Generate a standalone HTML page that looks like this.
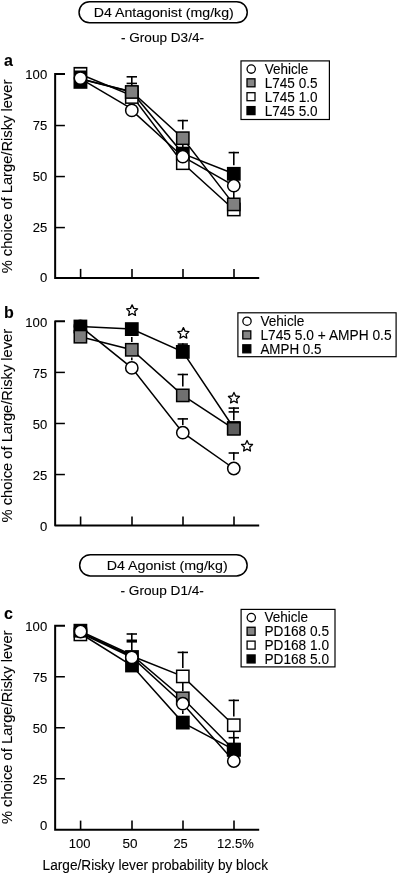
<!DOCTYPE html>
<html lang="en">
<head>
<meta charset="utf-8">
<title>Figure</title>
<style>
html,body{margin:0;padding:0;background:#fff;}
body{width:398px;height:874px;overflow:hidden;}
svg{display:block;}
svg text{font-family:"Liberation Sans",Arial,Helvetica,sans-serif;fill:#000;stroke:#000;stroke-width:0.1px;}
</style>
</head>
<body>
<svg width="398" height="874" viewBox="0 0 398 874">
<rect x="0" y="0" width="398" height="874" fill="#fff"/>
<rect x="79.05" y="1.65" width="168.2" height="21.1" rx="10.55" ry="10.55" fill="#fff" stroke="#000" stroke-width="1.5"/>
<text x="93.75" y="17.1" font-size="13.3" text-anchor="start" textLength="140.0" lengthAdjust="spacingAndGlyphs" >D4 Antagonist (mg/kg)</text>
<text x="121.0" y="42.4" font-size="12.8" text-anchor="start" textLength="83" lengthAdjust="spacingAndGlyphs" >- Group D3/4-</text>
<path d="M65,73.9 H55.15 V278.0 H259.2" fill="none" stroke="#000" stroke-width="2" stroke-linejoin="miter"/>
<text x="25.3" y="78.8" font-size="13" text-anchor="start" textLength="21.9" lengthAdjust="spacingAndGlyphs" >100</text>
<line x1="55.15" y1="125.53" x2="64.9" y2="125.53" stroke="#000" stroke-width="1.5"/>
<text x="32.7" y="129.83" font-size="13" text-anchor="start" textLength="14.5" lengthAdjust="spacingAndGlyphs" >75</text>
<line x1="55.15" y1="176.55" x2="64.9" y2="176.55" stroke="#000" stroke-width="1.5"/>
<text x="32.7" y="180.85" font-size="13" text-anchor="start" textLength="14.5" lengthAdjust="spacingAndGlyphs" >50</text>
<line x1="55.15" y1="227.57" x2="64.9" y2="227.57" stroke="#000" stroke-width="1.5"/>
<text x="32.7" y="231.88" font-size="13" text-anchor="start" textLength="14.5" lengthAdjust="spacingAndGlyphs" >25</text>
<text x="39.9" y="282.3" font-size="13" text-anchor="start" textLength="7.3" lengthAdjust="spacingAndGlyphs" >0</text>
<line x1="80.60000000000001" y1="278.0" x2="80.60000000000001" y2="268.9" stroke="#000" stroke-width="1.6"/>
<line x1="132.0" y1="278.0" x2="132.0" y2="268.9" stroke="#000" stroke-width="1.6"/>
<line x1="183.0" y1="278.0" x2="183.0" y2="268.9" stroke="#000" stroke-width="1.6"/>
<line x1="234.0" y1="278.0" x2="234.0" y2="268.9" stroke="#000" stroke-width="1.6"/>
<text x="4" y="66.2" font-size="16" text-anchor="start" font-weight="bold" >a</text>
<text transform="translate(11.9,273.3) rotate(-90)" font-size="14" textLength="193.6" lengthAdjust="spacingAndGlyphs">% choice of Large/Risky lever</text>
<line x1="80.4" y1="78.6" x2="131.8" y2="108.8" stroke="#000" stroke-width="1.5"/>
<polyline fill="none" stroke="#000" stroke-width="1.5" points="131.8,110.4 182.8,156.7 233.8,185.7"/>
<polyline fill="none" stroke="#000" stroke-width="1.5" points="80.4,79.0 131.8,92.0 182.8,153.6 233.8,173.8"/>
<polyline fill="none" stroke="#000" stroke-width="1.5" points="80.4,74.2 131.8,95.5 182.8,163.2 233.8,209.5"/>
<polyline fill="none" stroke="#000" stroke-width="1.5" points="80.4,78.8 131.8,91.8 182.8,138.2 233.8,204.4"/>
<line x1="131.8" y1="92.0" x2="131.8" y2="76.0" stroke="#000" stroke-width="1.6"/>
<line x1="126.60000000000001" y1="76.8" x2="137.0" y2="76.8" stroke="#000" stroke-width="1.6"/>
<line x1="126.60000000000001" y1="83.4" x2="137.0" y2="83.4" stroke="#000" stroke-width="1.6"/>
<line x1="182.8" y1="129.5" x2="182.8" y2="119.8" stroke="#000" stroke-width="1.6"/>
<line x1="177.60000000000002" y1="120.6" x2="188.0" y2="120.6" stroke="#000" stroke-width="1.6"/>
<line x1="233.8" y1="165.2" x2="233.8" y2="151.8" stroke="#000" stroke-width="1.6"/>
<line x1="228.60000000000002" y1="152.6" x2="239.0" y2="152.6" stroke="#000" stroke-width="1.6"/>
<line x1="182.8" y1="153.6" x2="182.8" y2="139.2" stroke="#000" stroke-width="1.6"/>
<line x1="177.60000000000002" y1="140" x2="188.0" y2="140" stroke="#000" stroke-width="1.6"/>
<line x1="233.8" y1="185.7" x2="233.8" y2="204.4" stroke="#000" stroke-width="1.6"/>
<rect x="73.5" y="66.9" width="13.9" height="21.9" fill="#000"/>
<rect x="74.9" y="68.6" width="11.1" height="1.9" fill="#fff"/>
<circle cx="80.4" cy="78.1" r="6.15" fill="#fff" stroke="#000" stroke-width="1.5"/>
<rect x="125.65" y="86.35" width="12.3" height="12.3" fill="#000" stroke="#000" stroke-width="1.5"/>
<rect x="125.65" y="90.85" width="12.3" height="12.3" fill="#fff" stroke="#000" stroke-width="1.5"/>
<rect x="125.65" y="85.85" width="12.3" height="12.3" fill="#808080" stroke="#000" stroke-width="1.5"/>
<circle cx="131.8" cy="110.4" r="6.15" fill="#fff" stroke="#000" stroke-width="1.5"/>
<rect x="176.65" y="147.45" width="12.3" height="12.3" fill="#000" stroke="#000" stroke-width="1.5"/>
<rect x="176.65" y="157.05" width="12.3" height="12.3" fill="#fff" stroke="#000" stroke-width="1.5"/>
<rect x="176.65" y="132.05" width="12.3" height="12.3" fill="#808080" stroke="#000" stroke-width="1.5"/>
<circle cx="182.8" cy="156.7" r="6.15" fill="#fff" stroke="#000" stroke-width="1.5"/>
<rect x="227.65" y="167.65" width="12.3" height="12.3" fill="#000" stroke="#000" stroke-width="1.5"/>
<rect x="227.65" y="203.35" width="12.3" height="12.3" fill="#fff" stroke="#000" stroke-width="1.5"/>
<rect x="227.65" y="198.25" width="12.3" height="12.3" fill="#808080" stroke="#000" stroke-width="1.5"/>
<circle cx="233.8" cy="185.7" r="6.15" fill="#fff" stroke="#000" stroke-width="1.5"/>
<rect x="241.0" y="60.9" width="88.4" height="58.6" fill="#fff" stroke="#000" stroke-width="1.2"/>
<circle cx="251.2" cy="69.1" r="4.15" fill="#fff" stroke="#000" stroke-width="1.3"/>
<text x="264.7" y="73.8" font-size="14" text-anchor="start" textLength="43.6" lengthAdjust="spacingAndGlyphs" >Vehicle</text>
<rect x="247.00" y="78.80" width="8.0" height="8.0" fill="#868686" stroke="#000" stroke-width="1.3"/>
<text x="264.7" y="87.7" font-size="14" text-anchor="start" textLength="52.8" lengthAdjust="spacingAndGlyphs" >L745 0.5</text>
<rect x="247.00" y="92.70" width="8.0" height="8.0" fill="#fff" stroke="#000" stroke-width="1.3"/>
<text x="264.7" y="101.6" font-size="14" text-anchor="start" textLength="52.8" lengthAdjust="spacingAndGlyphs" >L745 1.0</text>
<rect x="247.00" y="106.60" width="8.0" height="8.0" fill="#000" stroke="#000" stroke-width="1.3"/>
<text x="264.7" y="115.5" font-size="14" text-anchor="start" textLength="52.8" lengthAdjust="spacingAndGlyphs" >L745 5.0</text>
<path d="M65,321.35 H55.15 V525.6 H259.2" fill="none" stroke="#000" stroke-width="2" stroke-linejoin="round"/>
<text x="25.3" y="326.65" font-size="13" text-anchor="start" textLength="21.9" lengthAdjust="spacingAndGlyphs" >100</text>
<line x1="55.15" y1="372.41" x2="64.9" y2="372.41" stroke="#000" stroke-width="1.5"/>
<text x="32.7" y="377.71" font-size="13" text-anchor="start" textLength="14.5" lengthAdjust="spacingAndGlyphs" >75</text>
<line x1="55.15" y1="423.48" x2="64.9" y2="423.48" stroke="#000" stroke-width="1.5"/>
<text x="32.7" y="428.77" font-size="13" text-anchor="start" textLength="14.5" lengthAdjust="spacingAndGlyphs" >50</text>
<line x1="55.15" y1="474.54" x2="64.9" y2="474.54" stroke="#000" stroke-width="1.5"/>
<text x="32.7" y="479.84" font-size="13" text-anchor="start" textLength="14.5" lengthAdjust="spacingAndGlyphs" >25</text>
<text x="39.9" y="530.9" font-size="13" text-anchor="start" textLength="7.3" lengthAdjust="spacingAndGlyphs" >0</text>
<line x1="80.60000000000001" y1="525.6" x2="80.60000000000001" y2="516.5" stroke="#000" stroke-width="1.6"/>
<line x1="132.0" y1="525.6" x2="132.0" y2="516.5" stroke="#000" stroke-width="1.6"/>
<line x1="183.0" y1="525.6" x2="183.0" y2="516.5" stroke="#000" stroke-width="1.6"/>
<line x1="234.0" y1="525.6" x2="234.0" y2="516.5" stroke="#000" stroke-width="1.6"/>
<text x="4" y="317.6" font-size="16" text-anchor="start" font-weight="bold" >b</text>
<text transform="translate(11.9,522.4) rotate(-90)" font-size="14" textLength="193.6" lengthAdjust="spacingAndGlyphs">% choice of Large/Risky lever</text>
<polyline fill="none" stroke="#000" stroke-width="1.5" points="80.4,326.4 131.8,367.9 182.8,432.7 233.8,468.5"/>
<polyline fill="none" stroke="#000" stroke-width="1.5" points="80.4,326.5 131.8,329.1 182.8,351.9 233.8,428.0"/>
<polyline fill="none" stroke="#000" stroke-width="1.5" points="80.4,336.7 131.8,349.8 182.8,395.4 233.8,428.85"/>
<line x1="131.8" y1="337.0" x2="131.8" y2="342.0" stroke="#000" stroke-width="1.6"/>
<line x1="131.8" y1="357.6" x2="131.8" y2="360.3" stroke="#000" stroke-width="1.6"/>
<line x1="182.8" y1="351.9" x2="182.8" y2="343.3" stroke="#000" stroke-width="1.6"/>
<line x1="177.70000000000002" y1="344.1" x2="187.9" y2="344.1" stroke="#000" stroke-width="1.6"/>
<line x1="182.8" y1="386.6" x2="182.8" y2="373.7" stroke="#000" stroke-width="1.6"/>
<line x1="177.60000000000002" y1="374.5" x2="188.0" y2="374.5" stroke="#000" stroke-width="1.6"/>
<line x1="182.8" y1="425.0" x2="182.8" y2="418.1" stroke="#000" stroke-width="1.6"/>
<line x1="177.60000000000002" y1="418.9" x2="188.0" y2="418.9" stroke="#000" stroke-width="1.6"/>
<line x1="233.8" y1="420.2" x2="233.8" y2="407.3" stroke="#000" stroke-width="1.6"/>
<line x1="228.60000000000002" y1="408.1" x2="239.0" y2="408.1" stroke="#000" stroke-width="1.6"/>
<line x1="228.60000000000002" y1="411.9" x2="239.0" y2="411.9" stroke="#000" stroke-width="1.6"/>
<line x1="233.8" y1="460.2" x2="233.8" y2="452.2" stroke="#000" stroke-width="1.6"/>
<line x1="228.60000000000002" y1="453" x2="239.0" y2="453" stroke="#000" stroke-width="1.6"/>
<circle cx="80.4" cy="326.4" r="6.15" fill="#fff" stroke="#000" stroke-width="1.5"/>
<rect x="74.25" y="320.35" width="12.3" height="12.3" fill="#000" stroke="#000" stroke-width="1.5"/>
<rect x="125.65" y="322.95" width="12.3" height="12.3" fill="#000" stroke="#000" stroke-width="1.5"/>
<rect x="176.65" y="345.75" width="12.3" height="12.3" fill="#000" stroke="#000" stroke-width="1.5"/>
<rect x="227.65" y="421.85" width="12.3" height="12.3" fill="#000" stroke="#000" stroke-width="1.5"/>
<rect x="74.25" y="330.55" width="12.3" height="12.3" fill="#7e7e7e" stroke="#000" stroke-width="1.5"/>
<rect x="125.65" y="343.65" width="12.3" height="12.3" fill="#7c7c7c" stroke="#000" stroke-width="1.5"/>
<rect x="176.65" y="389.25" width="12.3" height="12.3" fill="#707070" stroke="#000" stroke-width="1.5"/>
<rect x="227.65" y="422.70" width="12.3" height="12.3" fill="#5e5e5e" stroke="#000" stroke-width="1.5"/>
<circle cx="131.8" cy="367.9" r="6.15" fill="#fff" stroke="#000" stroke-width="1.5"/>
<circle cx="182.8" cy="432.7" r="6.15" fill="#fff" stroke="#000" stroke-width="1.5"/>
<circle cx="233.8" cy="468.5" r="6.15" fill="#fff" stroke="#000" stroke-width="1.5"/>
<polygon fill="#fff" stroke="#000" stroke-width="1.3" stroke-linejoin="round" points="132.10,304.85 133.75,308.38 137.62,308.86 134.76,311.52 135.51,315.34 132.10,313.45 128.69,315.34 129.44,311.52 126.58,308.86 130.45,308.38"/>
<polygon fill="#fff" stroke="#000" stroke-width="1.3" stroke-linejoin="round" points="183.40,327.60 185.05,331.13 188.92,331.61 186.06,334.27 186.81,338.09 183.40,336.20 179.99,338.09 180.74,334.27 177.88,331.61 181.75,331.13"/>
<polygon fill="#fff" stroke="#000" stroke-width="1.3" stroke-linejoin="round" points="233.95,392.45 235.60,395.98 239.47,396.46 236.61,399.12 237.36,402.94 233.95,401.05 230.54,402.94 231.29,399.12 228.43,396.46 232.30,395.98"/>
<polygon fill="#fff" stroke="#000" stroke-width="1.3" stroke-linejoin="round" points="247.05,440.50 248.70,444.03 252.57,444.51 249.71,447.17 250.46,450.99 247.05,449.10 243.64,450.99 244.39,447.17 241.53,444.51 245.40,444.03"/>
<rect x="237.9" y="312.8" width="158.2" height="43.9" fill="#fff" stroke="#000" stroke-width="1.2"/>
<circle cx="247.0" cy="321.2" r="4.15" fill="#fff" stroke="#000" stroke-width="1.3"/>
<text x="260.4" y="325.9" font-size="14" text-anchor="start" textLength="43.9" lengthAdjust="spacingAndGlyphs" >Vehicle</text>
<rect x="242.80" y="330.90" width="8.0" height="8.0" fill="#868686" stroke="#000" stroke-width="1.3"/>
<text x="260.4" y="339.8" font-size="14" text-anchor="start" textLength="131.2" lengthAdjust="spacingAndGlyphs" >L745 5.0 + AMPH 0.5</text>
<rect x="242.80" y="344.80" width="8.0" height="8.0" fill="#000" stroke="#000" stroke-width="1.3"/>
<text x="260.4" y="353.7" font-size="14" text-anchor="start" textLength="61.0" lengthAdjust="spacingAndGlyphs" >AMPH 0.5</text>
<rect x="79.65" y="554.65" width="167.5" height="21.3" rx="10.65" ry="10.65" fill="#fff" stroke="#000" stroke-width="1.5"/>
<text x="106.65" y="570.2" font-size="13.3" text-anchor="start" textLength="121.0" lengthAdjust="spacingAndGlyphs" >D4 Agonist (mg/kg)</text>
<text x="120.5" y="595.0" font-size="12.8" text-anchor="start" textLength="83.4" lengthAdjust="spacingAndGlyphs" >- Group D1/4-</text>
<path d="M65,625.8 H55.15 V829.7 H259.2" fill="none" stroke="#000" stroke-width="2" stroke-linejoin="miter"/>
<text x="25.3" y="630.7" font-size="13" text-anchor="start" textLength="21.9" lengthAdjust="spacingAndGlyphs" >100</text>
<line x1="55.15" y1="676.77" x2="64.9" y2="676.77" stroke="#000" stroke-width="1.5"/>
<text x="32.7" y="681.67" font-size="13" text-anchor="start" textLength="14.5" lengthAdjust="spacingAndGlyphs" >75</text>
<line x1="55.15" y1="727.75" x2="64.9" y2="727.75" stroke="#000" stroke-width="1.5"/>
<text x="32.7" y="732.65" font-size="13" text-anchor="start" textLength="14.5" lengthAdjust="spacingAndGlyphs" >50</text>
<line x1="55.15" y1="778.73" x2="64.9" y2="778.73" stroke="#000" stroke-width="1.5"/>
<text x="32.7" y="783.62" font-size="13" text-anchor="start" textLength="14.5" lengthAdjust="spacingAndGlyphs" >25</text>
<text x="39.9" y="830.0" font-size="13" text-anchor="start" textLength="7.3" lengthAdjust="spacingAndGlyphs" >0</text>
<line x1="80.60000000000001" y1="829.7" x2="80.60000000000001" y2="820.6" stroke="#000" stroke-width="1.6"/>
<line x1="132.0" y1="829.7" x2="132.0" y2="820.6" stroke="#000" stroke-width="1.6"/>
<line x1="183.0" y1="829.7" x2="183.0" y2="820.6" stroke="#000" stroke-width="1.6"/>
<line x1="234.0" y1="829.7" x2="234.0" y2="820.6" stroke="#000" stroke-width="1.6"/>
<text x="4" y="619.0" font-size="16" text-anchor="start" font-weight="bold" >c</text>
<text transform="translate(11.9,824.1) rotate(-90)" font-size="14" textLength="193.6" lengthAdjust="spacingAndGlyphs">% choice of Large/Risky lever</text>
<polyline fill="none" stroke="#000" stroke-width="1.5" points="80.4,633.5 131.8,665.5 182.8,722.6 233.8,749.7"/>
<polyline fill="none" stroke="#000" stroke-width="1.5" points="80.4,631.3 131.8,654.9 182.8,698.3 233.8,749.7"/>
<polyline fill="none" stroke="#000" stroke-width="1.5" points="80.4,632.4 131.8,656.0 182.8,676.4 233.8,725.2"/>
<polyline fill="none" stroke="#000" stroke-width="1.5" points="80.4,633.0 131.8,657.2 182.8,703.7 233.8,761.0"/>
<line x1="131.8" y1="650" x2="131.8" y2="633.2" stroke="#000" stroke-width="1.6"/>
<line x1="126.60000000000001" y1="634.0" x2="137.0" y2="634.0" stroke="#000" stroke-width="1.6"/>
<line x1="126.60000000000001" y1="640.3" x2="137.0" y2="640.3" stroke="#000" stroke-width="1.6"/>
<line x1="126.60000000000001" y1="641.8" x2="137.0" y2="641.8" stroke="#000" stroke-width="1.6"/>
<line x1="182.8" y1="668.0" x2="182.8" y2="651.6" stroke="#000" stroke-width="1.6"/>
<line x1="177.60000000000002" y1="652.4" x2="188.0" y2="652.4" stroke="#000" stroke-width="1.6"/>
<line x1="182.8" y1="683" x2="182.8" y2="691" stroke="#000" stroke-width="1.6"/>
<line x1="182.8" y1="710.4" x2="182.8" y2="714.0" stroke="#000" stroke-width="1.6"/>
<line x1="233.8" y1="716.6" x2="233.8" y2="699.6" stroke="#000" stroke-width="1.6"/>
<line x1="228.60000000000002" y1="700.4" x2="239.0" y2="700.4" stroke="#000" stroke-width="1.6"/>
<line x1="233.8" y1="749.7" x2="233.8" y2="736.9" stroke="#000" stroke-width="1.6"/>
<line x1="228.60000000000002" y1="737.7" x2="239.0" y2="737.7" stroke="#000" stroke-width="1.6"/>
<line x1="233.8" y1="730" x2="233.8" y2="744" stroke="#000" stroke-width="1.6"/>
<rect x="74.25" y="628.25" width="12.3" height="12.3" fill="#fff" stroke="#000" stroke-width="1.5"/>
<rect x="74.25" y="624.55" width="12.3" height="12.3" fill="#000" stroke="#000" stroke-width="1.5"/>
<circle cx="80.60000000000001" cy="631.5" r="6.15" fill="#fff" stroke="#000" stroke-width="1.5"/>
<rect x="125.1" y="650.1" width="13.8" height="22.3" fill="#000"/>
<circle cx="131.8" cy="657.4" r="6.15" fill="#fff" stroke="#000" stroke-width="1.5"/>
<rect x="176.65" y="692.15" width="12.3" height="12.3" fill="#808080" stroke="#000" stroke-width="1.5"/>
<rect x="176.65" y="716.45" width="12.3" height="12.3" fill="#000" stroke="#000" stroke-width="1.5"/>
<rect x="176.65" y="670.25" width="12.3" height="12.3" fill="#fff" stroke="#000" stroke-width="1.5"/>
<circle cx="182.8" cy="703.7" r="6.15" fill="#fff" stroke="#000" stroke-width="1.5"/>
<rect x="227.65" y="743.55" width="12.3" height="12.3" fill="#808080" stroke="#000" stroke-width="1.5"/>
<rect x="227.65" y="743.55" width="12.3" height="12.3" fill="#000" stroke="#000" stroke-width="1.5"/>
<rect x="227.65" y="719.05" width="12.3" height="12.3" fill="#fff" stroke="#000" stroke-width="1.5"/>
<circle cx="233.8" cy="761.0" r="6.15" fill="#fff" stroke="#000" stroke-width="1.5"/>
<rect x="241.1" y="609.4" width="93.9" height="57.5" fill="#fff" stroke="#000" stroke-width="1.2"/>
<circle cx="251.3" cy="617.6" r="4.15" fill="#fff" stroke="#000" stroke-width="1.3"/>
<text x="264.4" y="622.3" font-size="14" text-anchor="start" textLength="43.6" lengthAdjust="spacingAndGlyphs" >Vehicle</text>
<rect x="247.10" y="627.25" width="8.0" height="8.0" fill="#868686" stroke="#000" stroke-width="1.3"/>
<text x="264.4" y="636.15" font-size="14" text-anchor="start" textLength="64.6" lengthAdjust="spacingAndGlyphs" >PD168 0.5</text>
<rect x="247.10" y="641.10" width="8.0" height="8.0" fill="#fff" stroke="#000" stroke-width="1.3"/>
<text x="264.4" y="650.0" font-size="14" text-anchor="start" textLength="64.6" lengthAdjust="spacingAndGlyphs" >PD168 1.0</text>
<rect x="247.10" y="654.95" width="8.0" height="8.0" fill="#000" stroke="#000" stroke-width="1.3"/>
<text x="264.4" y="663.85" font-size="14" text-anchor="start" textLength="64.6" lengthAdjust="spacingAndGlyphs" >PD168 5.0</text>
<text x="68.8" y="847.6" font-size="12.6" text-anchor="start" textLength="21.65" lengthAdjust="spacingAndGlyphs" >100</text>
<text x="122.4" y="847.6" font-size="12.6" text-anchor="start" textLength="15.05" lengthAdjust="spacingAndGlyphs" >50</text>
<text x="173.4" y="847.6" font-size="12.6" text-anchor="start" textLength="14.3" lengthAdjust="spacingAndGlyphs" >25</text>
<text x="216.9" y="847.6" font-size="12.6" text-anchor="start" textLength="36.9" lengthAdjust="spacingAndGlyphs" >12.5%</text>
<text x="42.6" y="870.3" font-size="13.8" text-anchor="start" textLength="225.4" lengthAdjust="spacingAndGlyphs" >Large/Risky lever probability by block</text>
</svg>
</body>
</html>
